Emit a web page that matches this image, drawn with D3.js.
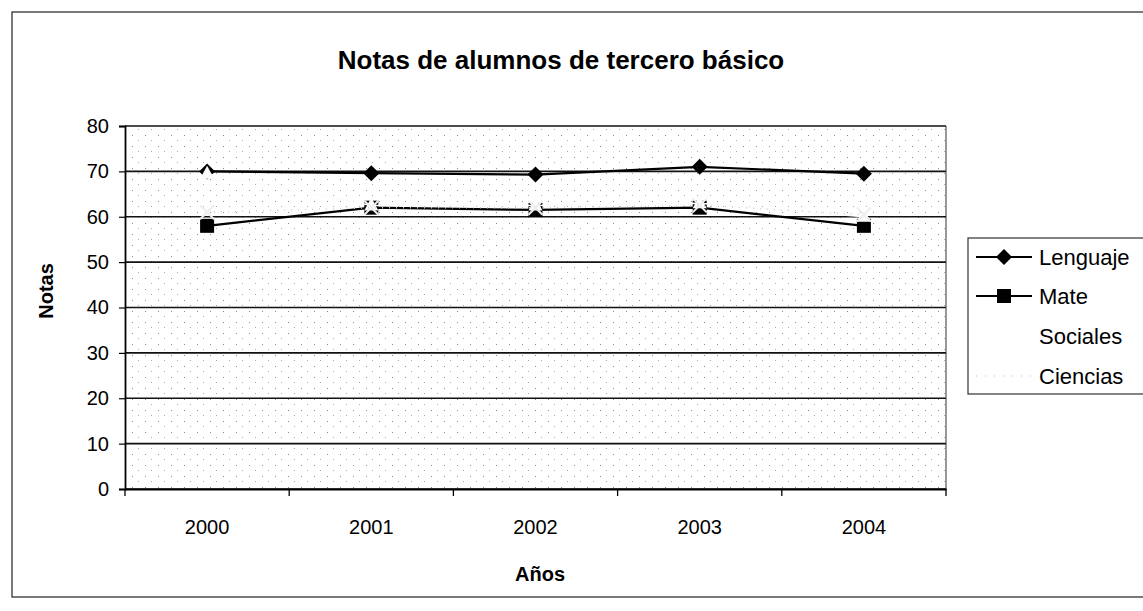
<!DOCTYPE html>
<html>
<head>
<meta charset="utf-8">
<script src="https://d3js.org/d3.v7.min.js"></script>
<style>
  body { margin: 0; background: #fff; }
  svg { font-family: "Liberation Sans", Arial, sans-serif; }
</style>
</head>
<body>
<div id="chart"></div>
<script>
// data
var years = ["2000", "2001", "2002", "2003", "2004"];
var lenguaje = [70, 69.6, 69.3, 71, 69.5];
var mate = [58, 62, 61.5, 62, 58];
var sociales = [69.5, 62.5, 62.5, 63, 60];
var ciencias = [61, 62, 62, 62.5, 60.5];
var yTicks = [0, 10, 20, 30, 40, 50, 60, 70, 80];

var series = [
  {name: "Lenguaje", values: lenguaje, color: "#000", marker: "diamond"},
  {name: "Mate", values: mate, color: "#000", marker: "square"},
  {name: "Sociales", values: sociales, color: "#fcfcfc", marker: "triangle"},
  {name: "Ciencias", values: ciencias, color: "#d0d0d0", marker: "cross"}
];

var W = 1143, H = 611;
var pLeft = 125, pRight = 946, pTop = 126, pBottom = 489;

var svg = d3.select("#chart").append("svg")
  .attr("width", W)
  .attr("height", H);

// outer chart frame
svg.append("rect")
  .attr("x", 12).attr("y", 12)
  .attr("width", 1145).attr("height", 585)
  .attr("fill", "#fff")
  .attr("stroke", "#222")
  .attr("stroke-width", 1.2);

// stipple like the scan of the grey plot area
var defs = svg.append("defs");
var pat = defs.append("pattern")
  .attr("id", "stip")
  .attr("width", 13).attr("height", 11)
  .attr("patternUnits", "userSpaceOnUse");
pat.append("rect").attr("x", 2).attr("y", 3).attr("width", 1).attr("height", 1).attr("fill", "#8a8a8a");
pat.append("rect").attr("x", 8).attr("y", 8).attr("width", 1).attr("height", 1).attr("fill", "#aaa");

var x = d3.scaleBand().domain(years).range([pLeft, pRight]);
var y = d3.scaleLinear().domain([0, 80]).range([pBottom, pTop]);

svg.append("rect")
  .attr("x", pLeft).attr("y", pTop)
  .attr("width", pRight - pLeft).attr("height", pBottom - pTop)
  .attr("fill", "url(#stip)");

// gridlines
svg.append("g")
  .selectAll("line")
  .data(yTicks)
  .enter().append("line")
  .attr("x1", pLeft).attr("x2", pRight)
  .attr("y1", function(d) { return y(d); })
  .attr("y2", function(d) { return y(d); })
  .attr("stroke", "#111")
  .attr("stroke-width", 1.6);

// right border of plot area
svg.append("line")
  .attr("x1", pRight).attr("x2", pRight)
  .attr("y1", pTop).attr("y2", pBottom)
  .attr("stroke", "#333").attr("stroke-width", 1);

// y axis
var yAxis = svg.append("g")
  .attr("transform", "translate(" + pLeft + ",0)")
  .call(d3.axisLeft(y).tickValues(yTicks).tickSize(6).tickPadding(10));
yAxis.select(".domain").attr("stroke", "#000").attr("stroke-width", 1.8);
yAxis.selectAll(".tick line").attr("stroke", "#000").attr("stroke-width", 1.2);
yAxis.selectAll("text").attr("font-size", 20).attr("fill", "#000")
  .attr("font-family", "Liberation Sans, Arial, sans-serif");

// x axis: labels centred in bands, ticks on band edges
var xAxis = svg.append("g")
  .attr("transform", "translate(0," + pBottom + ")")
  .call(d3.axisBottom(x).tickSize(0).tickPadding(31));
xAxis.select(".domain").attr("stroke", "#000").attr("stroke-width", 1.8);
xAxis.selectAll("text").attr("font-size", 20).attr("fill", "#000")
  .attr("font-family", "Liberation Sans, Arial, sans-serif");
xAxis.selectAll(".edge")
  .data(years.concat(["end"]))
  .enter().append("line")
  .attr("class", "edge")
  .attr("x1", function(d, i) { return pLeft + i * x.step(); })
  .attr("x2", function(d, i) { return pLeft + i * x.step(); })
  .attr("y1", 0).attr("y2", 7)
  .attr("stroke", "#000").attr("stroke-width", 1.3);

function cx(i) { return x(years[i]) + x.bandwidth() / 2; }

function drawMarker(g, type, px, py, color) {
  if (type === "diamond") {
    g.append("path")
      .attr("d", "M" + px + "," + (py - 8) + "L" + (px + 8) + "," + py + "L" + px + "," + (py + 8) + "L" + (px - 8) + "," + py + "Z")
      .attr("fill", color);
  } else if (type === "square") {
    g.append("rect")
      .attr("x", px - 7).attr("y", py - 7)
      .attr("width", 14).attr("height", 14)
      .attr("fill", color);
  } else if (type === "triangle") {
    g.append("path")
      .attr("d", "M" + px + "," + (py - 8) + "L" + (px + 7) + "," + (py + 5) + "L" + (px - 7) + "," + (py + 5) + "Z")
      .attr("fill", color);
  } else {
    g.append("path")
      .attr("d", "M" + (px - 7) + "," + (py - 7) + "L" + (px + 7) + "," + (py + 7) + "M" + (px + 7) + "," + (py - 7) + "L" + (px - 7) + "," + (py + 7))
      .attr("stroke", "#eee").attr("stroke-width", 2).attr("fill", "none");
  }
}

var line = d3.line()
  .x(function(d, i) { return cx(i); })
  .y(function(d) { return y(d); });

series.forEach(function(s) {
  var g = svg.append("g");
  g.append("path")
    .datum(s.values)
    .attr("d", line)
    .attr("fill", "none")
    .attr("stroke", s.color)
    .attr("stroke-width", s.color === "#000" ? 2.2 : 1.5)
    .attr("stroke-dasharray", s.name === "Ciencias" ? "1,6" : null);
  s.values.forEach(function(v, i) {
    drawMarker(g, s.marker, cx(i), y(v), s.color);
  });
});

// title and axis titles
svg.append("text")
  .attr("x", 561).attr("y", 69)
  .attr("text-anchor", "middle")
  .attr("font-size", 26).attr("font-weight", "bold")
  .text("Notas de alumnos de tercero básico");

svg.append("text")
  .attr("transform", "translate(53,291) rotate(-90)")
  .attr("text-anchor", "middle")
  .attr("font-size", 20).attr("font-weight", "bold")
  .text("Notas");

svg.append("text")
  .attr("x", 540).attr("y", 581)
  .attr("text-anchor", "middle")
  .attr("font-size", 20).attr("font-weight", "bold")
  .text("Años");

// legend
var lg = svg.append("g");
lg.append("rect")
  .attr("x", 968).attr("y", 238)
  .attr("width", 200).attr("height", 156)
  .attr("fill", "#fff")
  .attr("stroke", "#333").attr("stroke-width", 1.2);

var legendY = [257, 296, 336, 376];
series.forEach(function(s, i) {
  var ly = legendY[i];
  var g = lg.append("g");
  g.append("line")
    .attr("x1", 976).attr("x2", 1032)
    .attr("y1", ly).attr("y2", ly)
    .attr("stroke", s.color)
    .attr("stroke-width", s.color === "#000" ? 1.8 : 1.5)
    .attr("stroke-dasharray", s.name === "Ciencias" ? "1,8" : null);
  if (s.color === "#000") drawMarker(g, s.marker, 1004, ly, s.color);
  g.append("text")
    .attr("x", 1039).attr("y", ly + 8)
    .attr("font-size", 22)
    .text(s.name);
});
</script>
</body>
</html>
